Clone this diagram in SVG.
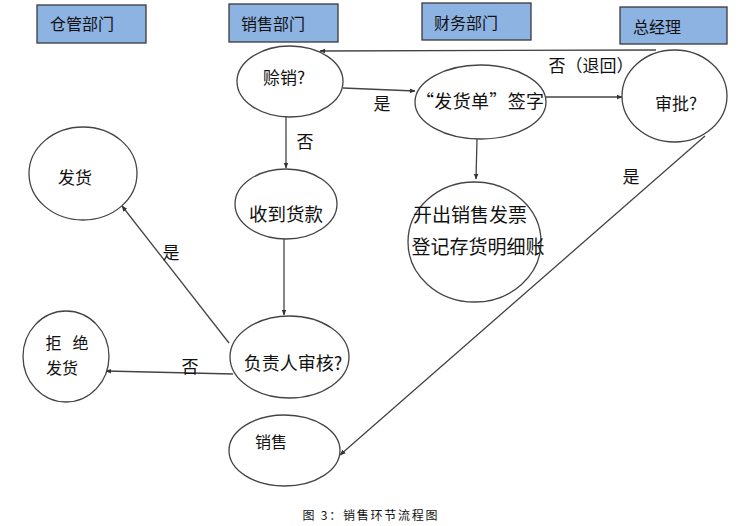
<svg xmlns="http://www.w3.org/2000/svg" width="746" height="526" viewBox="0 0 746 526">
<style>
.hdr{fill:#8DB3E2;stroke:#3a3a3a;stroke-width:1.3}
.nd{fill:#fff;stroke:#444;stroke-width:1.3}
.t{font-family:"Noto Sans CJK SC","Liberation Sans",sans-serif;fill:#111;dominant-baseline:central;text-anchor:middle}
.c{stroke:#444;stroke-width:1.3;fill:none;marker-end:url(#ah)}
</style>
<defs>
<marker id="ah" viewBox="0 0 10 10" refX="9" refY="5" markerWidth="6" markerHeight="6" orient="auto" markerUnits="userSpaceOnUse">
<path d="M0,1 L10,5 L0,9 Z" fill="#333"/>
</marker>
</defs>
<rect width="746" height="526" fill="#fff"/>
<g id="h1"><rect class="hdr" x="37" y="5" width="109" height="38"/><text class="t" x="82" y="23" font-size="16">仓管部门</text></g>
<g id="h2"><rect class="hdr" x="229" y="4" width="109" height="38"/><text class="t" x="273" y="23" font-size="16">销售部门</text></g>
<g id="h3"><rect class="hdr" x="422" y="3" width="109" height="37"/><text class="t" x="466" y="22" font-size="16">财务部门</text></g>
<g id="h4"><rect class="hdr" x="620" y="7" width="107" height="37"/><text class="t" x="657" y="26" font-size="16">总经理</text></g>

<g id="connectors">
<line class="c" x1="656" y1="50" x2="320" y2="51"/>
<line class="c" x1="343" y1="88" x2="415" y2="91"/>
<line class="c" x1="546" y1="97" x2="622" y2="97"/>
<line class="c" x1="477" y1="139" x2="476" y2="179"/>
<line class="c" x1="286" y1="117" x2="286" y2="168"/>
<line class="c" x1="284" y1="239" x2="284" y2="315"/>
<line class="c" x1="229" y1="343" x2="122" y2="206"/>
<line class="c" x1="233" y1="374" x2="106" y2="371"/>
<line class="c" x1="705" y1="136" x2="340" y2="455"/>
<text class="t" x="591" y="64" font-size="17">否（退回）</text>
<text class="t" x="382" y="102" font-size="17">是</text>
<text class="t" x="305" y="140" font-size="17">否</text>
<text class="t" x="171" y="251" font-size="17">是</text>
<text class="t" x="190" y="365" font-size="17">否</text>
<text class="t" x="631" y="175" font-size="17">是</text>
</g>

<g id="n_shexiao"><ellipse class="nd" cx="290" cy="81.5" rx="53" ry="35.5"/><text class="t" x="284" y="76" font-size="17">赊销?</text></g>
<g id="n_shoudao"><ellipse class="nd" cx="286" cy="204" rx="51" ry="35"/><text class="t" x="286" y="213" font-size="18.5">收到货款</text></g>
<g id="n_fahuo"><ellipse class="nd" cx="83" cy="173.5" rx="54" ry="46.5"/><text class="t" x="75" y="176" font-size="17">发货</text></g>
<g id="n_shenhe"><ellipse class="nd" cx="289.5" cy="357" rx="59.5" ry="41"/><text class="t" x="293" y="362" font-size="18">负责人审核?</text></g>
<g id="n_jujue"><ellipse class="nd" cx="66" cy="356.5" rx="43" ry="45.5"/><text class="t" x="67" y="342" font-size="16" textLength="43">拒 绝</text><text class="t" x="62" y="367" font-size="16">发货</text></g>
<g id="n_xiaoshou"><ellipse class="nd" cx="284.5" cy="450.5" rx="55.5" ry="35.5"/><text class="t" x="271" y="441" font-size="16">销售</text></g>
<g id="n_qianzi"><ellipse class="nd" cx="480.5" cy="102" rx="65.5" ry="37"/><text class="t" x="480" y="100" font-size="18" textLength="128" lengthAdjust="spacing">“发货单”签字</text></g>
<g id="n_fapiao"><ellipse class="nd" cx="474.5" cy="242" rx="66.5" ry="60"/><text class="t" x="470" y="213" font-size="19">开出销售发票</text><text class="t" x="478" y="245" font-size="19">登记存货明细账</text></g>
<g id="n_shenpi"><ellipse class="nd" cx="674.5" cy="96" rx="52.5" ry="46"/><text class="t" x="676" y="102" font-size="17">审批?</text></g>

<text class="t" x="370" y="514" font-size="12" textLength="135" lengthAdjust="spacing">图 3：销售环节流程图</text>
</svg>
